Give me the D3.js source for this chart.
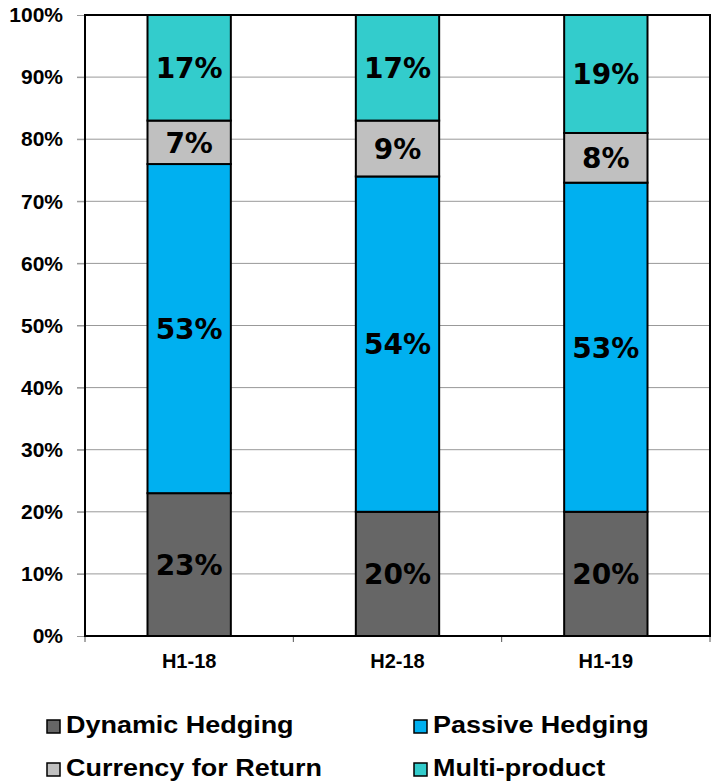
<!DOCTYPE html>
<html>
<head>
<meta charset="utf-8">
<script src="https://cdn.jsdelivr.net/npm/d3@7"></script>
<style>
  html, body { margin: 0; padding: 0; background: #fff; }
  svg { display: block; }
</style>
</head>
<body>
<svg id="chart" width="712" height="782"></svg>
<script>
// Periods and share of each hedging style (percent of total)
const periods = ["H1-18", "H2-18", "H1-19"];
const seriesNames = ["Dynamic Hedging", "Passive Hedging", "Currency for Return", "Multi-product"];
const dynamicHedging = [23, 20, 20];
const passiveHedging = [53, 54, 53];
const currencyForReturn = [7, 9, 8];
const multiProduct = [17, 17, 19];
const yTicks = [0, 10, 20, 30, 40, 50, 60, 70, 80, 90, 100];
const colors = ["#666666", "#00B0F0", "#C0C0C0", "#33CCCC"];

const rows = periods.map((p, i) => ({
  period: p,
  "Dynamic Hedging": dynamicHedging[i],
  "Passive Hedging": passiveHedging[i],
  "Currency for Return": currencyForReturn[i],
  "Multi-product": multiProduct[i]
}));

const svg = d3.select("#chart");
const m = { left: 85, top: 15, right: 710, bottom: 636 };
const sans = "'Liberation Sans', Arial, sans-serif";

const x = d3.scaleBand().domain(periods).range([m.left, m.right]).paddingInner(0.6).paddingOuter(0.3);
const y = d3.scaleLinear().domain([0, 100]).range([m.bottom, m.top]);

// gridlines with outward ticks on the left
svg.append("g")
  .selectAll("line").data(yTicks.filter(d => d > 0 && d < 100)).join("line")
  .attr("x1", m.left - 8).attr("x2", m.right)
  .attr("y1", d => y(d)).attr("y2", d => y(d))
  .attr("stroke", "#999").attr("stroke-width", 1);

const yAxis = svg.append("g")
  .attr("transform", `translate(${m.left},0)`)
  .call(d3.axisLeft(y).tickValues(yTicks).tickFormat(d => d + "%").tickSize(8).tickPadding(14));
yAxis.select(".domain").remove();
yAxis.selectAll("line").attr("stroke", "#999");
yAxis.selectAll("text")
  .attr("font-family", sans)
  .attr("font-weight", "bold").attr("font-size", 21).attr("fill", "#000");

// x axis ticks at category boundaries
const bSteps = d3.range(periods.length + 1).map(i => m.left + i * (m.right - m.left) / periods.length);
svg.append("g").selectAll("line").data(bSteps).join("line")
  .attr("x1", d => d).attr("x2", d => d)
  .attr("y1", m.bottom).attr("y2", m.bottom + 6)
  .attr("stroke", "#555").attr("stroke-width", 1);

svg.append("g").selectAll("text").data(periods).join("text")
  .attr("x", d => x(d) + x.bandwidth() / 2)
  .attr("y", m.bottom + 32)
  .attr("text-anchor", "middle")
  .attr("font-family", sans)
  .attr("font-weight", "bold").attr("font-size", 20)
  .text(d => d);

// stacked bars
const stack = d3.stack().keys(seriesNames)(rows);
const layers = svg.append("g").selectAll("g").data(stack).join("g")
  .attr("fill", (d, i) => colors[i]);
layers.selectAll("rect").data(d => d).join("rect")
  .attr("x", d => x(d.data.period))
  .attr("width", x.bandwidth())
  .attr("y", d => y(d[1]))
  .attr("height", d => y(d[0]) - y(d[1]))
  .attr("stroke", "#000").attr("stroke-width", 2);

layers.selectAll("text").data(d => d.map(v => ({ v, key: d.key }))).join("text")
  .attr("x", d => x(d.v.data.period) + x.bandwidth() / 2)
  .attr("y", d => y((d.v[0] + d.v[1]) / 2))
  .attr("dy", "0.37em")
  .attr("text-anchor", "middle")
  .attr("font-family", "'DejaVu Sans', Verdana, sans-serif")
  .attr("font-weight", "bold").attr("font-size", 28)
  .attr("fill", "#000")
  .text(d => (d.v[1] - d.v[0]) + "%");

// plot frame
svg.append("rect")
  .attr("x", m.left).attr("y", m.top)
  .attr("width", m.right - m.left).attr("height", m.bottom - m.top)
  .attr("fill", "none").attr("stroke", "#000").attr("stroke-width", 2);

// legend (two columns, two rows); positions are text baselines
const legendPos = [[47, 733], [414, 733], [47, 776], [414, 776]];
const legend = svg.append("g").selectAll("g").data(seriesNames).join("g")
  .attr("transform", (d, i) => `translate(${legendPos[i][0]},${legendPos[i][1]})`);
legend.append("rect")
  .attr("x", 0).attr("y", -13).attr("width", 13).attr("height", 13)
  .attr("fill", (d, i) => colors[i]).attr("stroke", "#000").attr("stroke-width", 1.5);
legend.append("text")
  .attr("transform", "translate(19,0) scale(1.1,1)")
  .attr("font-family", sans)
  .attr("font-weight", "bold").attr("font-size", 24.5)
  .text(d => d);
</script>
</body>
</html>
